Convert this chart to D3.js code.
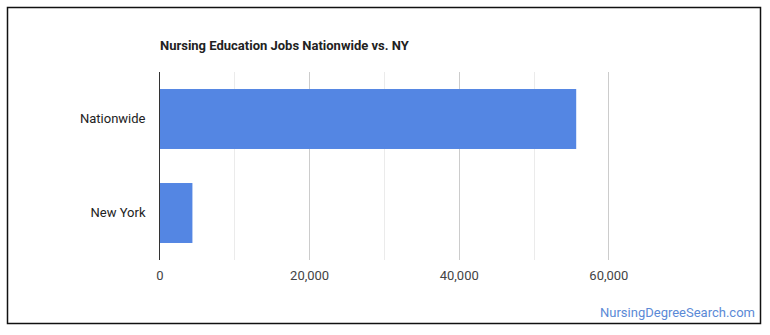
<!DOCTYPE html>
<html>
<head>
<meta charset="utf-8">
<script src="https://cdn.jsdelivr.net/npm/d3@7"></script>
<style>
  html, body { margin: 0; padding: 0; background: #fff; }
  svg { display: block; font-family: Roboto, "Liberation Sans", Arial, sans-serif; }
</style>
</head>
<body>
<div id="chart"></div>
<script>
// data
const categories = ['Nationwide', 'New York'];
const jobs = [55700, 4400];
const majorTicks = [0, 20000, 40000, 60000];
const minorTicks = [10000, 30000, 50000];

const width = 770, height = 335;
const margin = { top: 72, right: 12, bottom: 75, left: 159.5 };

const svg = d3.select('#chart')
    .append('svg')
    .attr('width', width)
    .attr('height', height);

// outer frame
svg.append('rect')
    .attr('x', 7.5)
    .attr('y', 7.5)
    .attr('width', 753)
    .attr('height', 316)
    .attr('fill', '#fff')
    .attr('stroke', '#111')
    .attr('stroke-width', 1.5);

const x = d3.scaleLinear()
    .domain([0, 80000])
    .range([margin.left, width - margin.right]);

const y = d3.scaleBand()
    .domain(categories)
    .range([margin.top, height - margin.bottom])
    .paddingInner(0.362)
    .paddingOuter(0.181);

// title
svg.append('text')
    .attr('x', 160)
    .attr('y', 50)
    .attr('font-size', 13)
    .attr('font-weight', 'bold')
    .attr('fill', '#222')
    .text('Nursing Education Jobs Nationwide vs. NY');

// gridlines
const grid = svg.append('g');
grid.selectAll('line.minor')
    .data(minorTicks)
    .join('line')
    .attr('class', 'minor')
    .attr('x1', d => Math.round(x(d)) + 0.5)
    .attr('x2', d => Math.round(x(d)) + 0.5)
    .attr('y1', margin.top)
    .attr('y2', height - margin.bottom)
    .attr('stroke', '#ebebeb');

grid.selectAll('line.major')
    .data(majorTicks.slice(1))
    .join('line')
    .attr('class', 'major')
    .attr('x1', d => Math.round(x(d)) + 0.5)
    .attr('x2', d => Math.round(x(d)) + 0.5)
    .attr('y1', margin.top)
    .attr('y2', height - margin.bottom)
    .attr('stroke', '#cccccc');

// bars
svg.append('g')
    .selectAll('rect')
    .data(categories)
    .join('rect')
    .attr('x', x(0))
    .attr('y', d => y(d))
    .attr('width', (d, i) => x(jobs[i]) - x(0))
    .attr('height', y.bandwidth())
    .attr('fill', '#5486e3');

// baseline
svg.append('line')
    .attr('x1', x(0))
    .attr('x2', x(0))
    .attr('y1', margin.top)
    .attr('y2', height - margin.bottom)
    .attr('stroke', '#333')
    .attr('stroke-width', 1);

// x axis labels
const xAxis = d3.axisBottom(x)
    .tickValues(majorTicks)
    .tickFormat(d3.format(','))
    .tickSize(0)
    .tickPadding(11);

svg.append('g')
    .attr('transform', `translate(0,${height - margin.bottom})`)
    .call(xAxis)
    .call(g => g.select('.domain').remove())
    .call(g => g.selectAll('text')
        .attr('font-size', 13)
        .attr('font-family', 'Roboto, "Liberation Sans", Arial, sans-serif')
        .attr('fill', '#444'));

// category labels
const yAxis = d3.axisLeft(y)
    .tickSize(0)
    .tickPadding(14);

svg.append('g')
    .attr('transform', `translate(${x(0)},0)`)
    .call(yAxis)
    .call(g => g.select('.domain').remove())
    .call(g => g.selectAll('text')
        .attr('font-size', 13)
        .attr('font-family', 'Roboto, "Liberation Sans", Arial, sans-serif')
        .attr('fill', '#222'));

// watermark
svg.append('text')
    .attr('x', 755)
    .attr('y', 317)
    .attr('text-anchor', 'end')
    .attr('font-size', 13)
    .attr('fill', '#5b8ad6')
    .text('NursingDegreeSearch.com');
</script>
</body>
</html>
